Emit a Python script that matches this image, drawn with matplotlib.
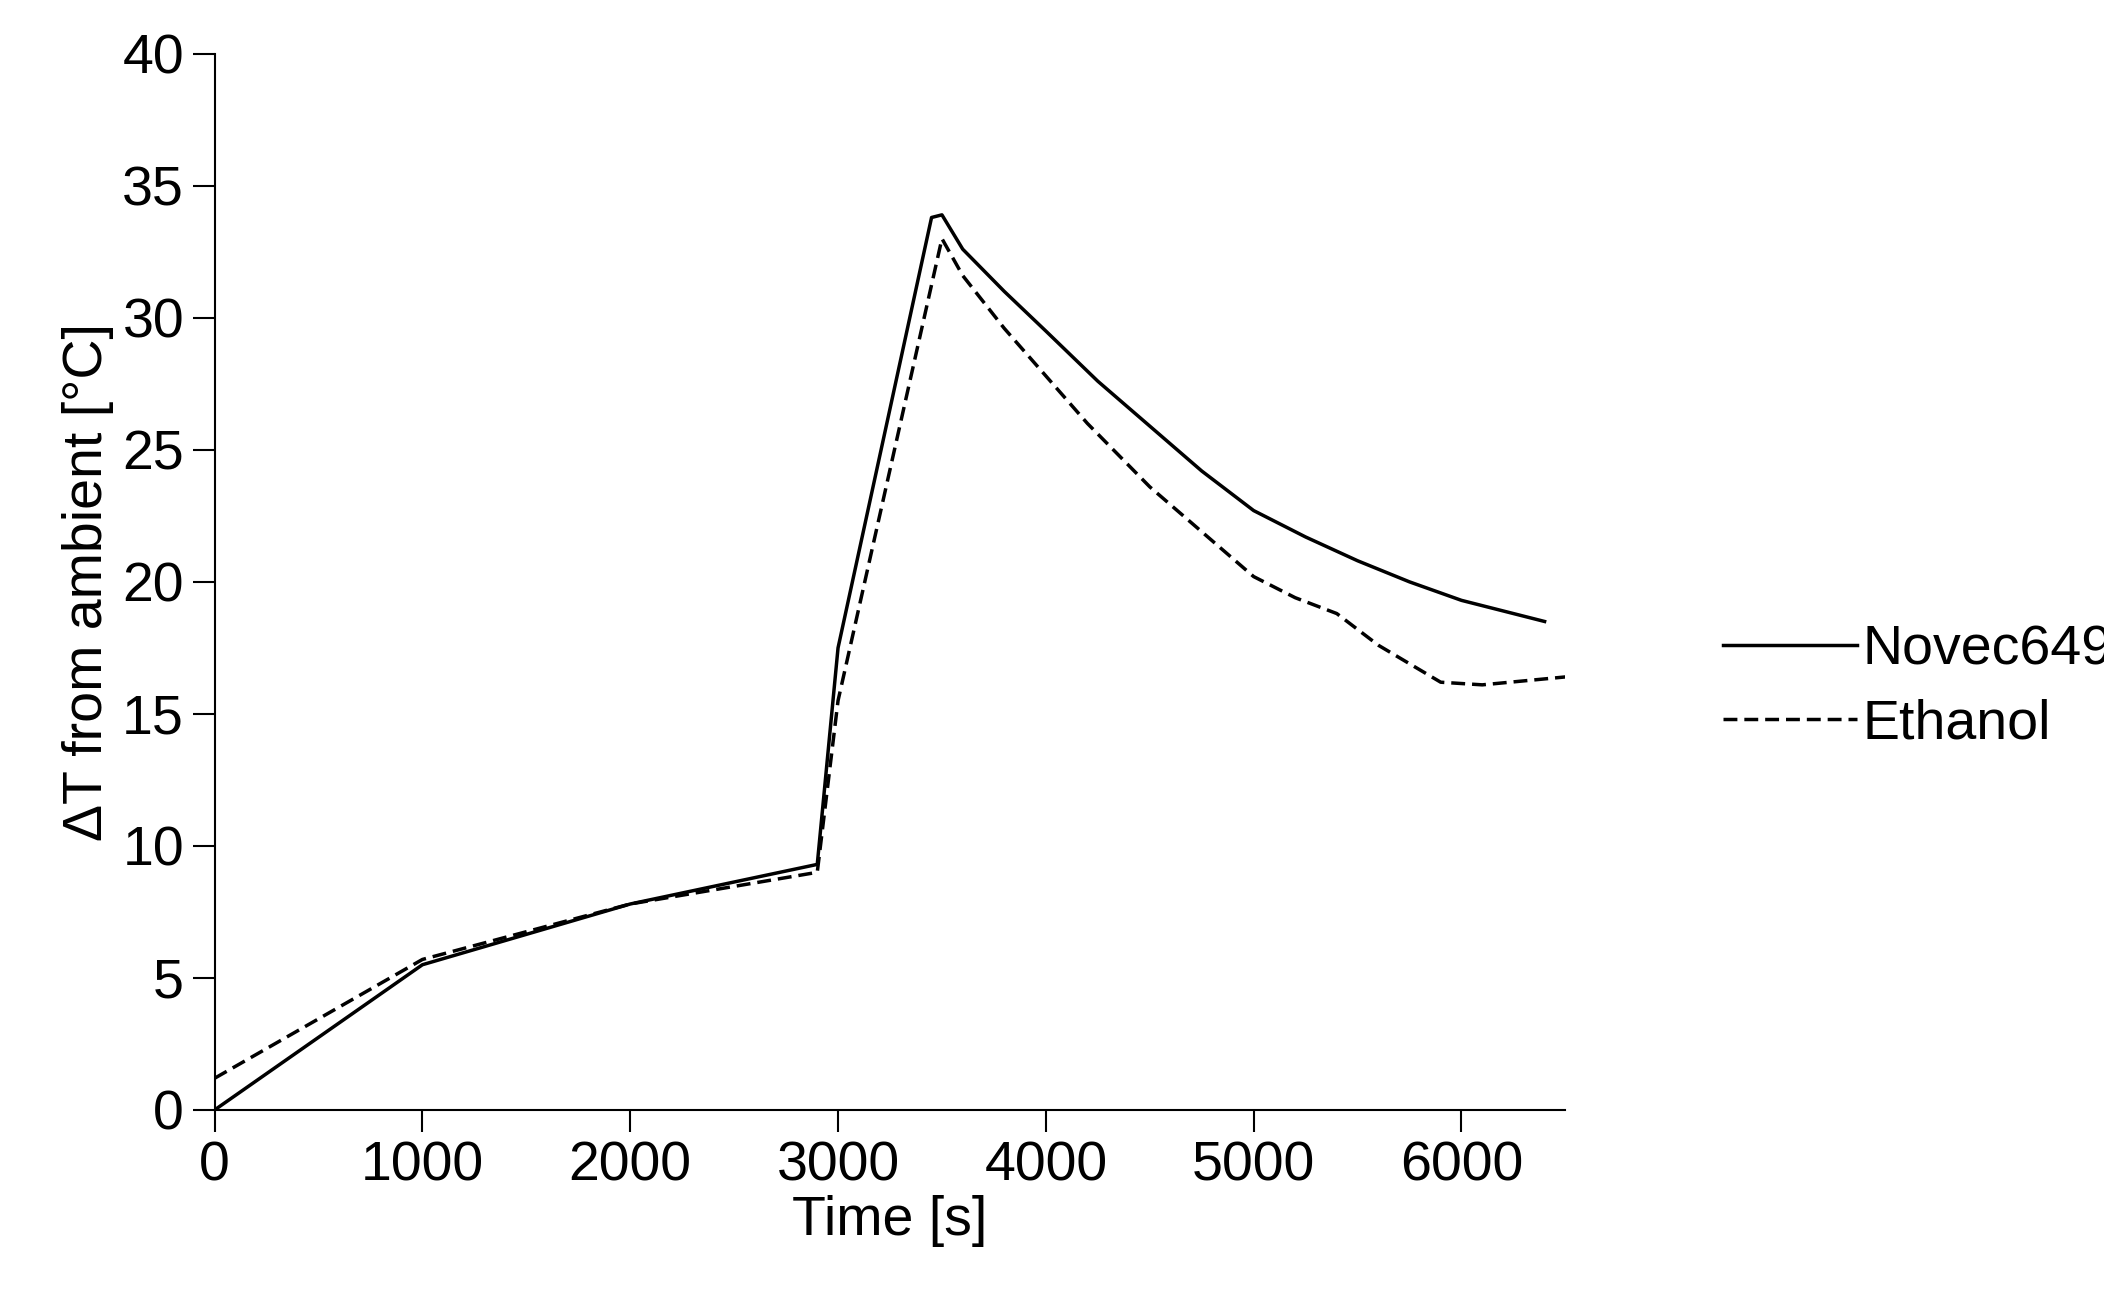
import matplotlib
matplotlib.use('Agg')
import matplotlib.pyplot as plt

# Data
novec_t = [0, 1000, 2000, 2900, 3000, 3450, 3500, 3600, 3800, 4000, 4250, 4500, 4750, 5000,
           5250, 5500, 5750, 6000, 6200, 6400]
novec_dT = [0, 5.5, 7.8, 9.3, 17.5, 33.8, 33.9, 32.6, 31.0, 29.5, 27.6, 25.9, 24.2, 22.7,
            21.7, 20.8, 20.0, 19.3, 18.9, 18.5]
eth_t = [0, 1000, 2000, 2900, 3000, 3500, 3600, 3800, 4000, 4200, 4500, 4750, 5000, 5200,
         5400, 5600, 5900, 6100, 6500]
eth_dT = [1.2, 5.7, 7.8, 9.0, 15.5, 33.0, 31.6, 29.6, 27.8, 26.0, 23.6, 21.9, 20.2, 19.4,
          18.8, 17.6, 16.2, 16.1, 16.4]

plt.rcParams['font.family'] = ['Liberation Sans', 'DejaVu Sans']
fig = plt.figure(figsize=(21.04, 13.12), dpi=100)
ax = fig.add_axes([0.102, 0.154, 0.642, 0.805])

ax.plot(novec_t, novec_dT, 'k-', lw=2.5, label='Novec649')
ax.plot(eth_t, eth_dT, 'k--', lw=2.5, dashes=(4, 2), label='Ethanol')

ax.set_xlim(0, 6500)
ax.set_ylim(0, 40)
ax.set_xticks(range(0, 7000, 1000))
ax.set_yticks(range(0, 45, 5))
for s in ['top', 'right']:
    ax.spines[s].set_visible(False)
for s in ['left', 'bottom']:
    ax.spines[s].set_linewidth(1.5)
ax.tick_params(labelsize=40, width=1.5, length=16, direction='out', pad=6)
ax.set_xlabel('Time [s]', fontsize=40, labelpad=2)
ax.set_ylabel('ΔT from ambient [°C]', fontsize=40, labelpad=6)

ax.legend(loc='center left', bbox_to_anchor=(1.08, 0.4), frameon=False,
          fontsize=40, handlelength=2.4, handletextpad=0.1, labelspacing=0.4)

fig.savefig('out.png', dpi=100)
